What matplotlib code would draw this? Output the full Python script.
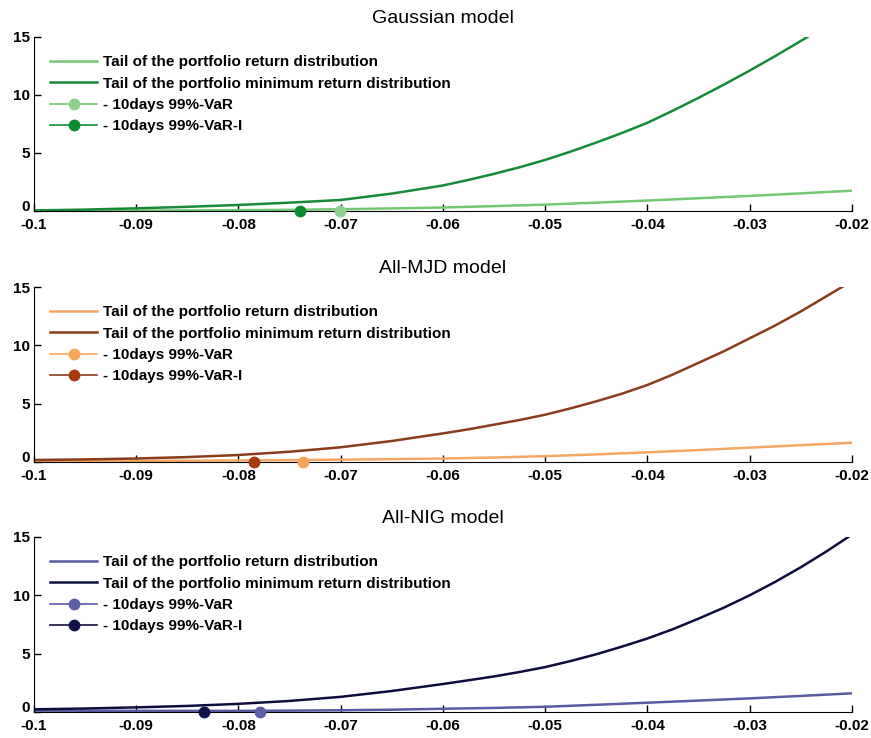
import matplotlib
matplotlib.use("Agg")
import matplotlib.pyplot as plt
from matplotlib.transforms import ScaledTranslation

# ---------------- data ----------------
x_vals = [-0.1, -0.095, -0.09, -0.085, -0.08, -0.075, -0.07, -0.065, -0.06,
          -0.055, -0.05, -0.045, -0.04, -0.035, -0.03, -0.025, -0.02]

x_min = [-0.1, -0.095, -0.09, -0.085, -0.08, -0.075, -0.07, -0.065,
         -0.06, -0.0575, -0.055, -0.0525, -0.05, -0.0475, -0.045, -0.0425,
         -0.04, -0.0375, -0.035, -0.0325, -0.03, -0.0275, -0.025, -0.0225, -0.02]

gauss_ret = [0.01, 0.02, 0.03, 0.05, 0.07, 0.10, 0.15, 0.22, 0.30,
             0.42, 0.55, 0.72, 0.90, 1.10, 1.30, 1.52, 1.75]
gauss_min = [0.05, 0.12, 0.23, 0.36, 0.52, 0.72, 0.95, 1.50,
             2.20, 2.68, 3.20, 3.77, 4.40, 5.12, 5.90, 6.72,
             7.60, 8.65, 9.75, 10.90, 12.10, 13.35, 14.65, 16.00, 17.40]

mjd_ret = [0.08, 0.09, 0.10, 0.11, 0.13, 0.16, 0.20, 0.24, 0.30,
           0.38, 0.50, 0.65, 0.83, 1.02, 1.23, 1.44, 1.65]
mjd_min = [0.17, 0.22, 0.30, 0.42, 0.60, 0.88, 1.26, 1.80,
           2.45, 2.80, 3.20, 3.60, 4.05, 4.60, 5.20, 5.85,
           6.60, 7.50, 8.50, 9.50, 10.60, 11.70, 12.90, 14.20, 15.50]

nig_ret = [0.12, 0.11, 0.10, 0.10, 0.10, 0.12, 0.15, 0.20, 0.28,
           0.35, 0.45, 0.62, 0.80, 0.98, 1.17, 1.38, 1.60]
nig_min = [0.23, 0.30, 0.40, 0.52, 0.70, 0.95, 1.30, 1.80,
           2.40, 2.72, 3.05, 3.43, 3.85, 4.37, 4.95, 5.60,
           6.30, 7.10, 8.00, 8.95, 10.00, 11.15, 12.40, 13.75, 15.20]

var_vals = [-0.0701, -0.0737, -0.0779]     # 10days 99%-VaR
vari_vals = [-0.0740, -0.0785, -0.0834]    # 10days 99%-VaR-I

titles = ['Gaussian model', 'All-MJD model', 'All-NIG model']
legend_labels = ['Tail of the portfolio return distribution',
                 'Tail of the portfolio minimum return distribution',
                 '- 10days 99%-VaR',
                 '- 10days 99%-VaR-I']
xticks = [-0.1, -0.09, -0.08, -0.07, -0.06, -0.05, -0.04, -0.03, -0.02]
xticklabels = ['-0.1', '-0.09', '-0.08', '-0.07', '-0.06', '-0.05', '-0.04', '-0.03', '-0.02']
yticks = [0, 5, 10, 15]
yticklabels = ['0', '5', '10', '15']

light_colors = ['#72c872', '#f4a764', '#5a5aa4']
dark_colors = ['#178a3a', '#8a3c1c', '#0e0e3e']
light_marker = ['#8fd08f', '#f7a45c', '#5e5ea8']
dark_marker = ['#0f8a30', '#a8380e', '#12124a']

rets = [gauss_ret, mjd_ret, nig_ret]
mins = [gauss_min, mjd_min, nig_min]

# ---------------- figure ----------------
fig = plt.figure(figsize=(8.71, 7.38), dpi=100)
fig.patch.set_facecolor('white')

positions = [(0.039, 0.7141, 0.939, 0.2358),
             (0.039, 0.3740, 0.939, 0.2371),
             (0.039, 0.0352, 0.939, 0.2372)]

fam = ['Liberation Sans', 'DejaVu Sans']
tick_font = dict(family=fam, weight='bold', size=11)

for i in range(3):
    ax = fig.add_axes(positions[i])
    ax.plot(x_vals, rets[i], color=light_colors[i], lw=1.8, label=legend_labels[0])
    ax.plot(x_min, mins[i], color=dark_colors[i], lw=1.8, label=legend_labels[1])
    ax.plot([var_vals[i]], [0], '-o', color=light_colors[i], mfc=light_marker[i],
            mec=light_marker[i], ms=7.5, lw=1.2, clip_on=False, zorder=5,
            label=legend_labels[2])
    ax.plot([vari_vals[i]], [0], '-o', color=dark_colors[i], mfc=dark_marker[i],
            mec=dark_marker[i], ms=7.5, lw=1.2, clip_on=False, zorder=5,
            label=legend_labels[3])
    ax.set_xlim(-0.1, -0.02)
    ax.set_ylim(0, 15)
    ax.spines['top'].set_visible(False)
    ax.spines['right'].set_visible(False)
    ax.set_xticks(xticks)
    ax.set_xticklabels(xticklabels, fontdict=tick_font)
    ax.set_yticks(yticks)
    ax.set_yticklabels(yticklabels, fontdict=tick_font)
    ax.tick_params(direction='in', length=5, width=1)
    ax.tick_params(axis='x', pad=5)
    ax.tick_params(axis='y', pad=3)
    # lift the "0" y label a little so it does not collide with "-0.1"
    zero_lbl = ax.get_yticklabels()[0]
    zero_lbl.set_transform(zero_lbl.get_transform() +
                           ScaledTranslation(0, 4 / 72, fig.dpi_scale_trans))
    ax.set_title(titles[i], fontsize=14, family=fam, pad=10)
    ax.legend(loc='upper left', bbox_to_anchor=(0.012, 0.93), frameon=False,
              prop=dict(family=fam, weight='bold', size=11),
              handlelength=3.1, handletextpad=0.35, labelspacing=0.48, borderaxespad=0)

fig.savefig('out.png', dpi=100, facecolor='white')
